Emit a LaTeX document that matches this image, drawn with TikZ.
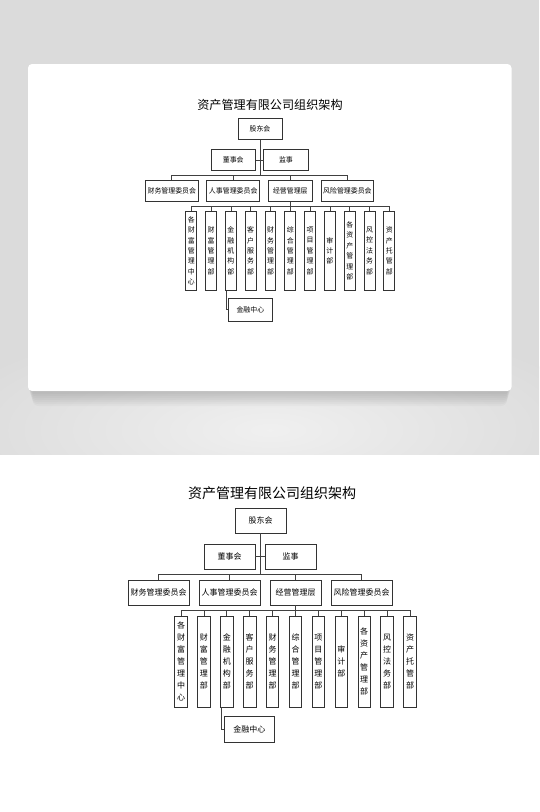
\documentclass[tikz,border=0pt]{standalone}
\usepackage{fontspec}
\setmainfont{Noto Sans CJK SC}

\tikzset{
    orgbox/.style = {draw=black!80, line width=0.9pt, fill=white,
        minimum height=25, inner sep=0pt, font=\fontsize{8}{10}\selectfont},
    deptbox/.style = {orgbox, minimum width=12.5, minimum height=91,
        align=center, font=\fontsize{8}{12}\selectfont},
    orgline/.style = {draw=black!75, line width=0.7pt},
    orgchart/.pic = {
        \node (-title) at (272,493) [font=\fontsize{14}{16}\selectfont] {资产管理有限公司组织架构};

        \node (-gd) [orgbox, minimum width=51] at (260.5,520.5) {股东会};
        \node (-dsh) [orgbox, minimum width=51] at (229.5,556.5) {董事会};
        \node (-js) [orgbox, minimum width=51] at (290.5,556.5) {监事};

        \node (-cwh) [orgbox, minimum width=61] at (158.5,592.5) {财务管理委员会};
        \node (-rsh) [orgbox, minimum width=61] at (229.5,592.5) {人事管理委员会};
        \node (-jyc) [orgbox, minimum width=51] at (295.5,592.5) {经营管理层};
        \node (-fxh) [orgbox, minimum width=61] at (361.5,592.5) {风险管理委员会};

        \node (-cfzx) [deptbox] at (181,661.5) {各\\财\\富\\管\\理\\中\\心};
        \node (-cfb) [deptbox] at (203.9,661.5) {财\\富\\管\\理\\部};
        \node (-jgb) [deptbox] at (226.8,661.5) {金\\融\\机\\构\\部};
        \node (-kfb) [deptbox] at (249.7,661.5) {客\\户\\服\\务\\部};
        \node (-cwb) [deptbox] at (272.6,661.5) {财\\务\\管\\理\\部};
        \node (-zhb) [deptbox] at (295.5,661.5) {综\\合\\管\\理\\部};
        \node (-xmb) [deptbox] at (318.4,661.5) {项\\目\\管\\理\\部};
        \node (-sjb) [deptbox] at (341.3,661.5) {审\\计\\部};
        \node (-zcb) [deptbox] at (364.2,661.5) {各\\资\\产\\管\\理\\部};
        \node (-fkb) [deptbox] at (387.1,661.5) {风\\控\\法\\务\\部};
        \node (-tgb) [deptbox] at (410,661.5) {资\\产\\托\\管\\部};

        \node (-jrzx) [orgbox, minimum width=50, minimum height=26] at (249.3,729.7) {金融中心};

        \path [orgline]
            (-gd.south) edge ++(0,42)
            (-dsh.east) edge (-js.west)
            (-jyc.south) edge ++(0,6);
        \draw [orgline] (-cwh.north) -- ++(0,-5) -| (-fxh.north);
        \draw [orgline] (-rsh.north) -- ++(0,-5)
            (-jyc.north) -- ++(0,-5);
        \draw [orgline] (-cfzx.north) -- ++(0,-5) -| (-tgb.north);
        \draw [orgline]
            (-cfb.north) -- ++(0,-5)
            (-jgb.north) -- ++(0,-5)
            (-kfb.north) -- ++(0,-5)
            (-cwb.north) -- ++(0,-5)
            (-zhb.north) -- ++(0,-5)
            (-xmb.north) -- ++(0,-5)
            (-sjb.north) -- ++(0,-5)
            (-zcb.north) -- ++(0,-5)
            (-fkb.north) -- ++(0,-5);
        \draw [orgline] (-jgb.south west) ++(1.5,0) |- (-jrzx.west);
    }
}

\begin{document}
\begin{tikzpicture} [x=1pt, y=-1pt]
    \useasboundingbox (0,0) rectangle (539,812);

    % grey backdrop with the card
    \fill [gray!28] (0,0) rectangle (539,454.5);
    \begin{scope}
        \clip (0,0) rectangle (539,454.5);
        \shade [inner color=gray!12, outer color=gray!28] (270,430) ellipse [x radius=330, y radius=110];
    \end{scope}
    \foreach \d in {1,3,...,15}
        \fill [black, opacity=0.022, rounded corners=6pt]
            (28+0.3*\d,70) rectangle (511.5-0.3*\d,391+\d);
    \fill [white, rounded corners=4pt] (28,64) rectangle (511.5,391);

    \pic (top) [scale=0.865, transform shape] at (34.7,-321.4) {orgchart};
    \pic (bot) at (0,0) {orgchart};
\end{tikzpicture}
\end{document}
